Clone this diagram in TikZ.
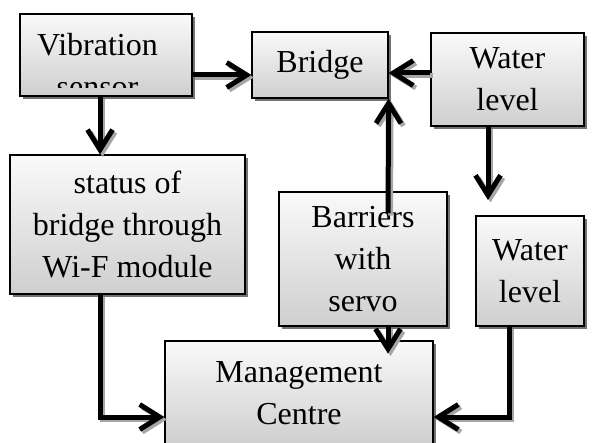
\documentclass[tikz,border=0pt]{standalone}
\usepackage{fontspec}
\setmainfont{Liberation Serif}
\usetikzlibrary{arrows.meta,shadows}

% all connectors, drawn once as shadow and once in black
\newcommand{\drawlinks}[1]{%
    % Arrows into the bridge
    \draw[arr,#1] ([yshift=-20pt]vib.east) -- ([yshift=-20pt]vib.east -| bridge.west);
    \draw[arr,#1] ([yshift=6.5pt]wl1.west) -- ([yshift=6.5pt]wl1.west -| bridge.east);
    \draw[arr,#1] (barin) -- (bridge.south east);
    % Arrows downwards
    \draw[arr,#1] ([xshift=-6pt]vib.south) -- ([xshift=-6pt]vib.south |- status.north);
    \draw[arr,#1] ([xshift=-19.5pt]wl1.south) -- (wlend);
    % Arrows into the management centre
    \draw[arr,#1] ([xshift=-27.5pt]status.south) |- ([yshift=-24pt]mgmt.west);
    \draw[arr,#1] ([xshift=25pt]bar.south) -- ++(0,27);
    \draw[arr,#1] ([xshift=-21pt]wl2.south) |- ([yshift=-24pt]mgmt.east);
}

\begin{document}
\begin{tikzpicture}[
    x=1pt, y=-1pt,
    every node/.style={font=\fontsize{32}{42}\selectfont},
    box/.style={rectangle, draw=black, line width=1.2pt, top color=gray!4,
        bottom color=gray!38, align=center, inner sep=0pt,
        drop shadow={shadow xshift=3pt, shadow yshift=-3pt, fill=black!55, opacity=1}},
    arr/.style={-{Straight Barb[length=20pt,width=25pt]}, line width=5pt}
]
    \useasboundingbox (0,0) rectangle (596,443);

    % === TOP ROW ===
    \node[box, minimum width=172pt, minimum height=82pt] (vib) at (106,55) {};
    \begin{scope}
        \clip (20,14) rectangle (192,88);
        \node[align=center] (vibtxt) at (97.5,65.5) {Vibration\\sensor};
    \end{scope}
    \node[box, minimum width=136pt, minimum height=66pt] (bridge) at (320,65) {Bridge};
    \node[box, minimum width=153pt, minimum height=93pt] (wl1) at (507.5,79.5) {Water\\level};

    % === MIDDLE ROW ===
    \node[box, minimum width=235pt, minimum height=139pt] (status) at (127.5,224.5)
        {status of\\bridge through\\Wi-F module};
    \node[box, minimum width=168pt, minimum height=134pt] (bar) at (363,259)
        {Barriers\\with\\servo};
    \node[box, minimum width=108pt, minimum height=110pt] (wl2) at (530,271) {Water\\level};

    % === BOTTOM ===
    \node[box, minimum width=268pt, minimum height=104pt] (mgmt) at (299,393)
        {Management\\Centre};

    % free ends
    \coordinate (barin) at (388,213);
    \coordinate (wlend) at (488,200);

    \begin{scope}[transform canvas={shift={(2.5pt,-2.5pt)}}]
        \drawlinks{black!35}
    \end{scope}
    \drawlinks{black}
\end{tikzpicture}
\end{document}
